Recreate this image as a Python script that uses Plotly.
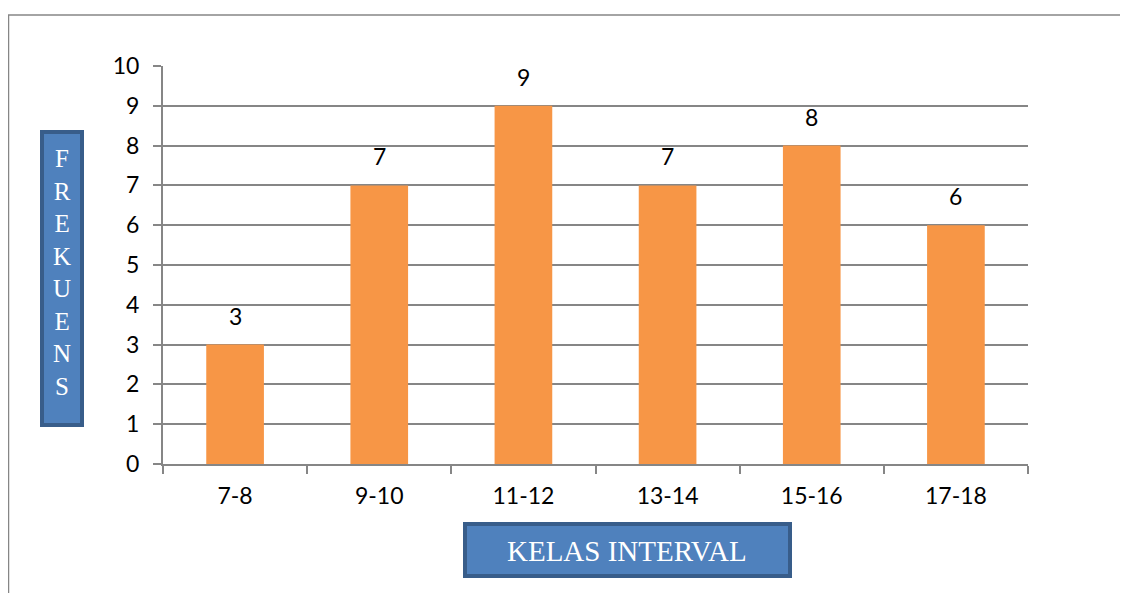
import plotly.graph_objects as go

categories = ["7-8", "9-10", "11-12", "13-14", "15-16", "17-18"]
values = [3, 7, 9, 7, 8, 6]
y_ticks = list(range(0, 11))

# page body has an 8px margin; work in viewport pixels and shift
OFF = 8
W, H = 1128 - OFF, 593 - OFF
L, R, T, B = 163 - OFF, 1028 - OFF, 66 - OFF, 464 - OFF

def px(x):
    return (x - OFF - L) / (R - L)

def py(y):
    return (B - (y - OFF)) / (B - T)

FONT = "Lato, Open Sans, sans-serif"

fig = go.Figure()
fig.add_trace(go.Bar(
    x=categories, y=values,
    marker=dict(color="#F79646", line=dict(width=0)),
    width=0.4,
))

for c, v in zip(categories, values):
    fig.add_annotation(
        x=c, y=v, text=str(v), showarrow=False,
        yanchor="bottom", yshift=13,
        font=dict(family=FONT, size=23, color="#000000"),
    )

fig.update_layout(
    width=W, height=H,
    margin=dict(l=L, r=W - R, t=T, b=H - B),
    paper_bgcolor="white", plot_bgcolor="white",
    showlegend=False,
    font=dict(family=FONT, size=23, color="#000000"),
)
fig.update_xaxes(
    type="category", showgrid=False,
    showline=True, linecolor="#868686", linewidth=2,
    ticks="outside", ticklen=8, tickcolor="#868686", tickwidth=1.5,
    tickson="boundaries",
    tickfont=dict(size=23), ticklabelstandoff=10,
)
fig.update_yaxes(
    range=[0, 10], tickvals=y_ticks,
    showgrid=True, gridcolor="#868686", gridwidth=1.5,
    showline=True, linecolor="#868686", linewidth=2,
    ticks="outside", ticklen=8, tickcolor="#868686", tickwidth=1.5,
    tickfont=dict(size=23), zeroline=False, ticklabelstandoff=9,
)

shapes = [
    # outer border
    dict(type="rect", xref="paper", yref="paper",
         x0=px(8.5), x1=px(1140), y0=py(15), y1=py(610),
         line=dict(color="#868686", width=1.5), fillcolor="rgba(0,0,0,0)", layer="below"),
    # y title box
    dict(type="rect", xref="paper", yref="paper",
         x0=px(42), x1=px(82), y0=py(132), y1=py(425),
         line=dict(color="#385D8A", width=4), fillcolor="#4F81BD"),
    # x title box
    dict(type="rect", xref="paper", yref="paper",
         x0=px(465), x1=px(790), y0=py(524), y1=py(576),
         line=dict(color="#385D8A", width=4), fillcolor="#4F81BD"),
]
fig.update_layout(shapes=shapes)

fig.add_annotation(
    xref="paper", yref="paper", x=px(62), y=py(272),
    text="<br>".join(list("FREKUENS")), showarrow=False,
    font=dict(family="Liberation Serif, Times New Roman, serif", size=25, color="white"),
    align="center", xanchor="center", yanchor="middle",
)
fig.add_annotation(
    xref="paper", yref="paper", x=px(627), y=py(551),
    text="KELAS INTERVAL", showarrow=False,
    font=dict(family="Liberation Serif, Times New Roman, serif", size=29, color="white"),
    xanchor="center", yanchor="middle",
)

fig.write_html("out.html")
